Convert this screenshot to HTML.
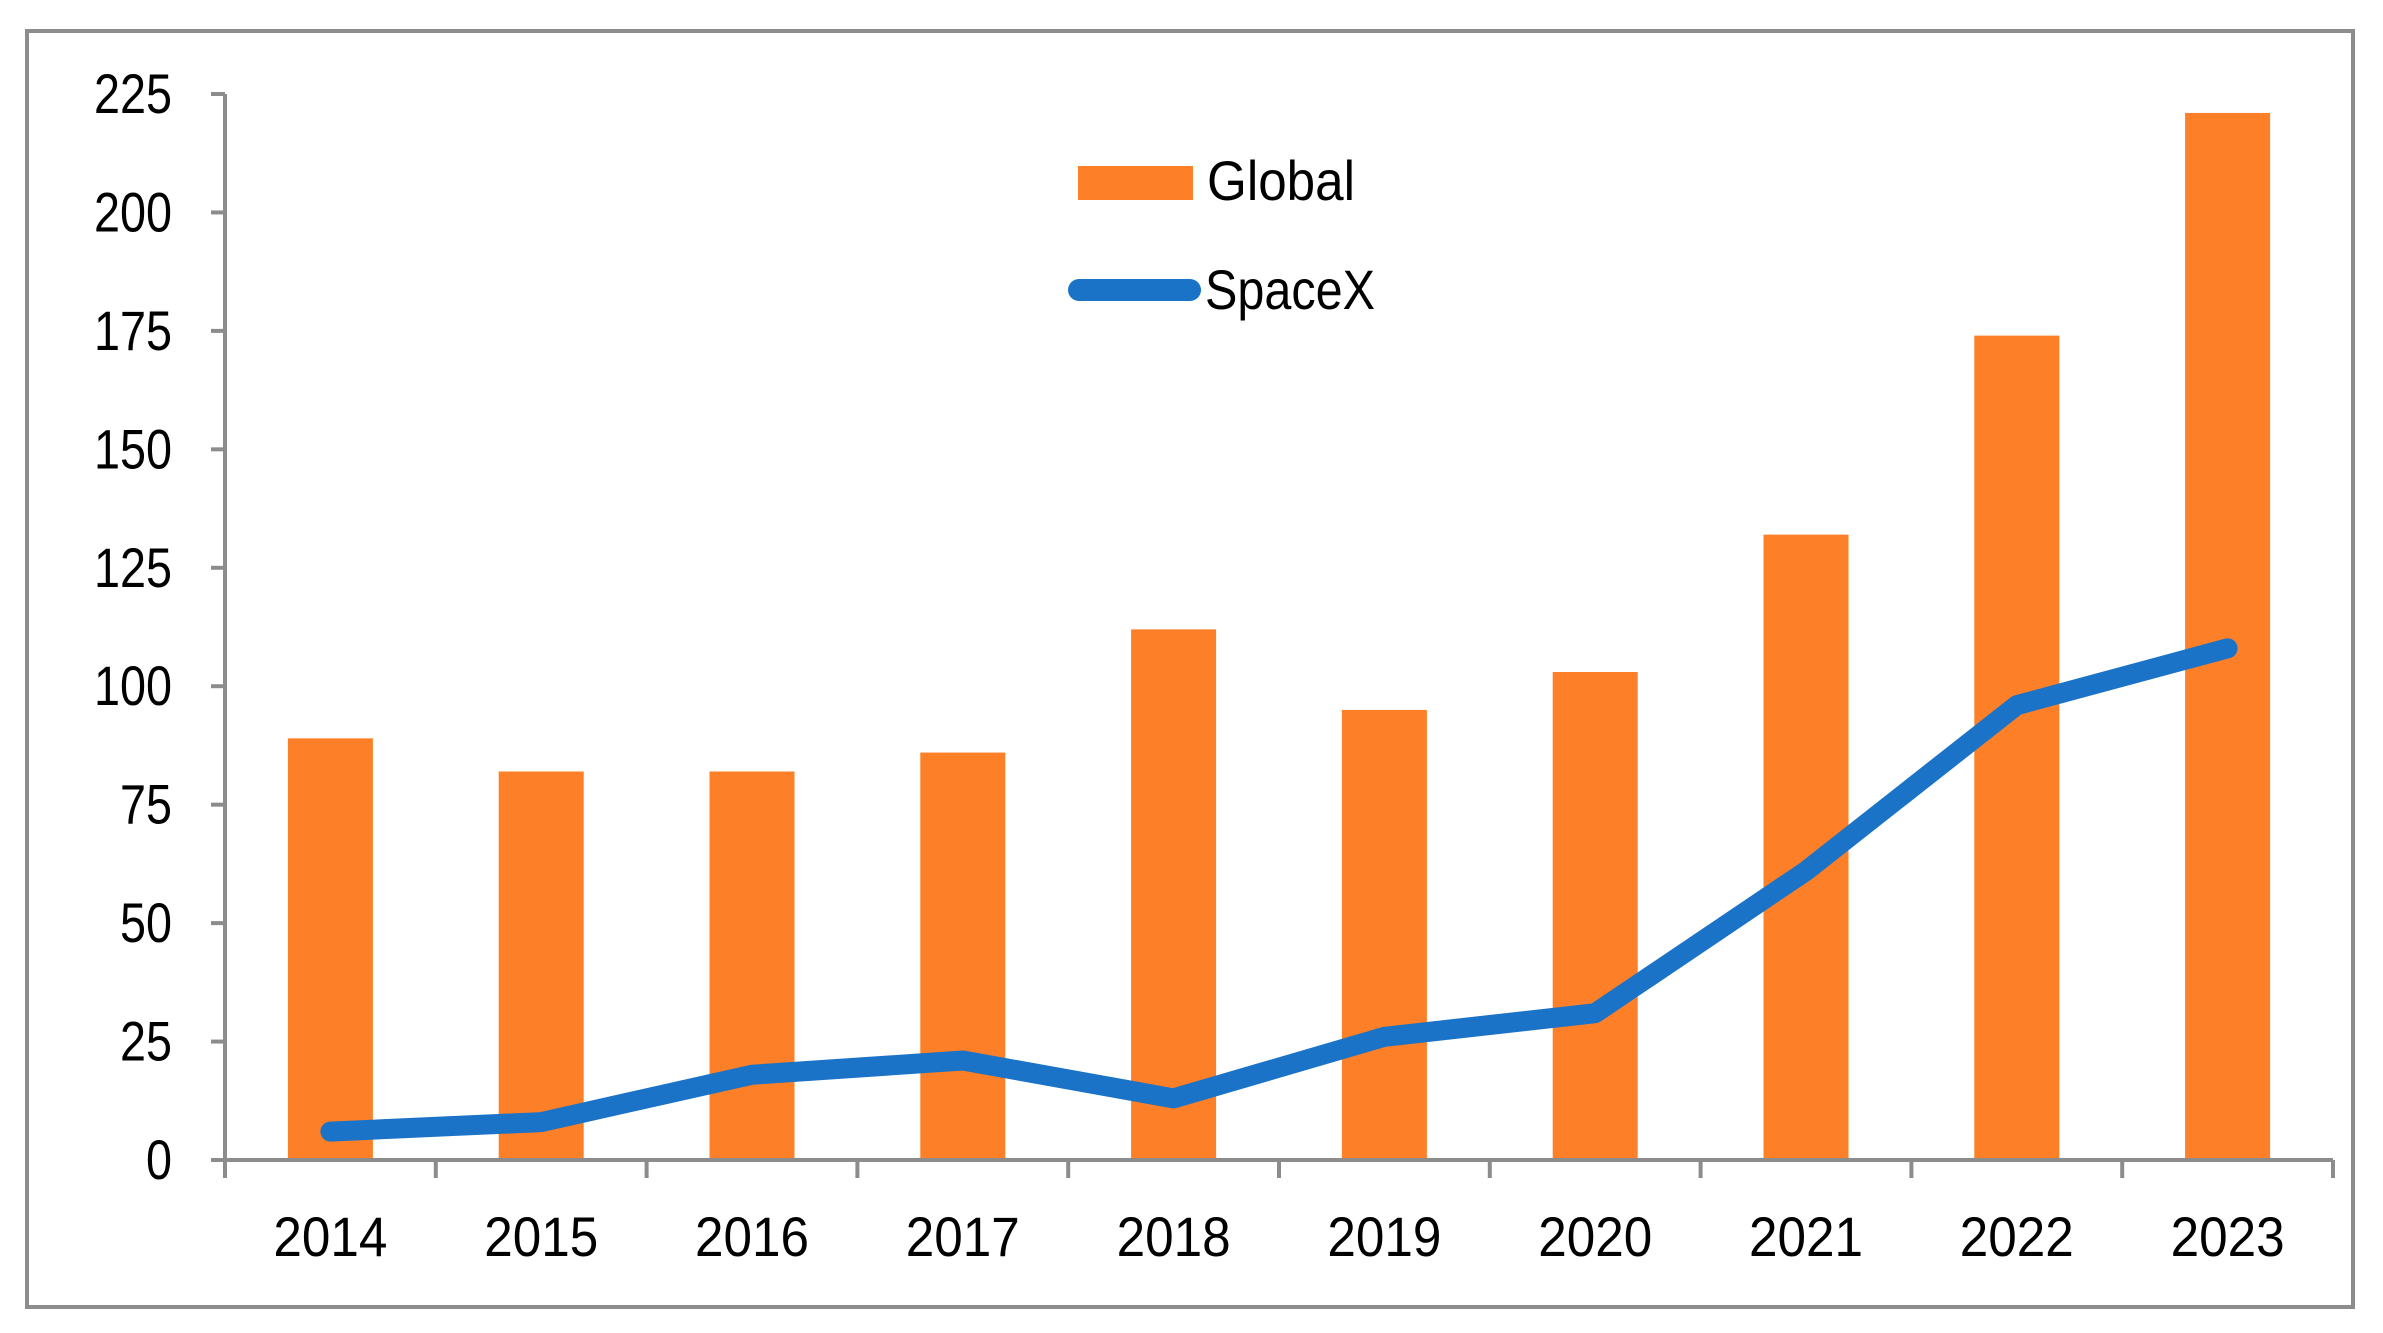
<!DOCTYPE html>
<html><head><meta charset="utf-8"><style>
html,body{margin:0;padding:0;background:#fff}
svg{display:block;font-family:"Liberation Sans",sans-serif}
</style></head><body>
<svg id="chart" width="2383" height="1333" viewBox="0 0 2383 1333" xmlns="http://www.w3.org/2000/svg">
<rect x="27" y="31" width="2326" height="1276" fill="#fff" stroke="#8c8c8c" stroke-width="4"/>
<g id="bars"></g><g id="axes"></g><g id="line"></g>
<g>
<rect x="1078" y="166" width="115" height="34" fill="#fd7f27"/>
<text x="1207" y="200" font-size="56" textLength="148" lengthAdjust="spacingAndGlyphs">Global</text>
<line x1="1079" y1="290" x2="1190" y2="290" stroke="#1a73c7" stroke-width="22" stroke-linecap="round"/>
<text x="1205" y="309" font-size="56" textLength="170" lengthAdjust="spacingAndGlyphs">SpaceX</text>
</g>
</svg>
<script>
const categories=["2014","2015","2016","2017","2018","2019","2020","2021","2022","2023"];
const globalValues=[89,82,82,86,112,95,103,132,174,221];
const spacexValues=[6,8,18,21,13,26,31,61,96,108];
const yTicks=[0,25,50,75,100,125,150,175,200,225];
const NS="http://www.w3.org/2000/svg";
const x0=225,x1=2333,y0=1160,yTop=94,yMax=225;
const cw=(x1-x0)/categories.length;
const xC=i=>x0+cw*(i+0.5);
const yS=v=>y0-(v/yMax)*(y0-yTop);
function mk(tag,attrs,parent){const e=document.createElementNS(NS,tag);for(const k in attrs)e.setAttribute(k,attrs[k]);parent.appendChild(e);return e;}
const bars=document.getElementById('bars'),axes=document.getElementById('axes'),line=document.getElementById('line');
globalValues.forEach((v,i)=>{
 const r=mk('rect',{x:xC(i)-42.5,y:yS(v),width:85,height:y0-yS(v),fill:'#fd7f27'},bars);
 
 
});
const ya=mk('line',{x1:x0,y1:yTop,x2:x0,y2:y0,stroke:'#8c8c8c','stroke-width':4},axes);


const xa=mk('line',{x1:x0-12,y1:y0,x2:x1,y2:y0,stroke:'#8c8c8c','stroke-width':4},axes);


yTicks.forEach(t=>{
 const tk=mk('line',{x1:x0-14,y1:yS(t),x2:x0,y2:yS(t),stroke:'#8c8c8c','stroke-width':4},axes);
 
 
 const s=String(t);
 const tx=mk('text',{x:172,y:yS(t)+19,'font-size':56,'text-anchor':'end',textLength:s.length*26,lengthAdjust:'spacingAndGlyphs'},axes);
 tx.textContent=s;
 
 
});
for(let i=0;i<=categories.length;i++){
 const tk=mk('line',{x1:x0+cw*i,y1:y0,x2:x0+cw*i,y2:y0+18,stroke:'#8c8c8c','stroke-width':4},axes);
 
 
}
categories.forEach((c,i)=>{
 const tx=mk('text',{x:xC(i),y:1256,'font-size':56,'text-anchor':'middle',textLength:114,lengthAdjust:'spacingAndGlyphs'},axes);
 tx.textContent=c;
 
 
});
const pts=spacexValues.map((v,i)=>xC(i)+','+yS(v)).join(' ');
const pl=mk('polyline',{points:pts,fill:'none',stroke:'#1a73c7','stroke-width':20,'stroke-linecap':'round','stroke-linejoin':'round'},line);


</script>
</body></html>
